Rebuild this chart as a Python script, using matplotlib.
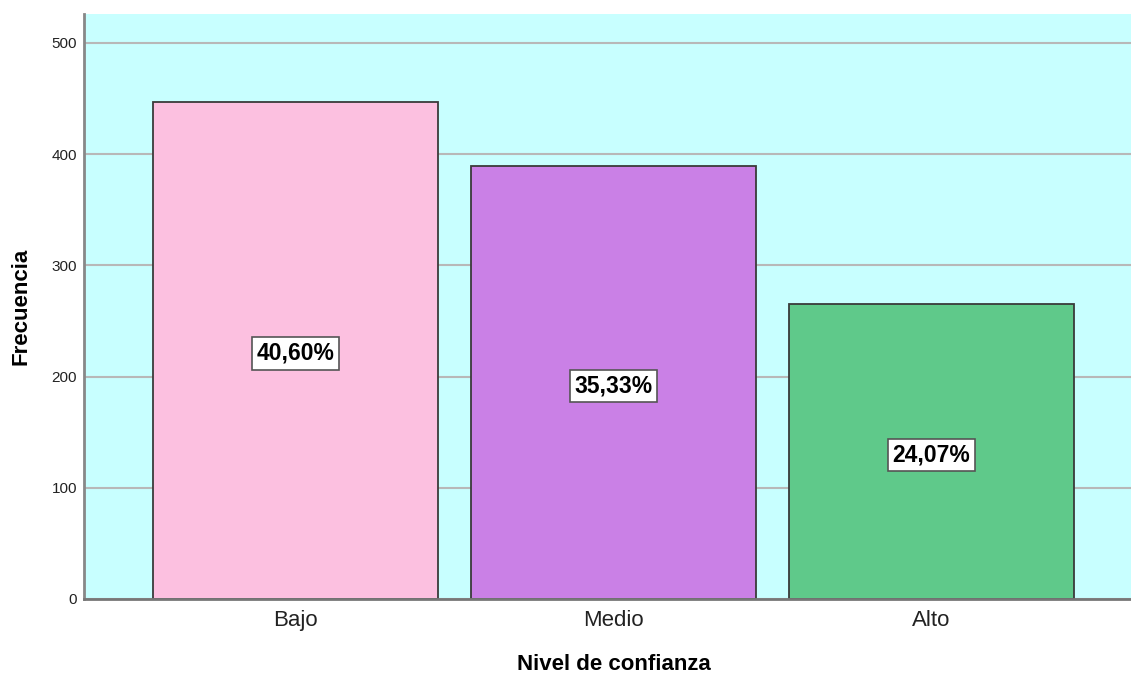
import matplotlib
matplotlib.use('Agg')
import matplotlib.pyplot as plt

plt.rcParams['font.family'] = ['Liberation Sans', 'DejaVu Sans']

# frequency counts per confidence level
niveles = ['Bajo', 'Medio', 'Alto']
frecuencias = [447, 389, 265]
porcentajes = ['40,60%', '35,33%', '24,07%']
colores = ['#FCC0E0', '#CA80E6', '#5FC98A']
yticks = [0, 100, 200, 300, 400, 500]

W, H = 1131, 675
fig = plt.figure(figsize=(W / 100, H / 100), dpi=100)
ax = fig.add_axes([84 / W, 76 / H, 1 - 84 / W, 585 / H])
ax.set_facecolor('#C8FFFF')

ax.set_xlim(-0.665, 2.627)
ax.set_ylim(0, 526)
ax.set_yticks(yticks)
ax.yaxis.grid(True, color='#B8B8B8', linewidth=1.5)
ax.set_axisbelow(True)

x = range(len(niveles))
ax.bar(x, frecuencias, width=0.896, color=colores, edgecolor='#3A3A3A', linewidth=1.3, zorder=2)

for xi, f, p in zip(x, frecuencias, porcentajes):
    ax.annotate(p, (xi, f / 2), xytext=(0, -3), textcoords='offset pixels',
                ha='center', va='center', fontsize=16.5, fontweight='bold',
                bbox=dict(facecolor='white', edgecolor='#555555', boxstyle='square,pad=0.2', linewidth=1.2),
                zorder=3)

ax.set_xticks(list(x))
ax.set_xticklabels(niveles, fontsize=16, color='#222222')
ax.tick_params(axis='x', length=0, pad=8)
ax.tick_params(axis='y', length=0, pad=5, labelsize=11, labelcolor='#222222')

for s in ['top', 'right']:
    ax.spines[s].set_visible(False)
ax.spines['left'].set_color('#888888')
ax.spines['left'].set_linewidth(2)
ax.spines['bottom'].set_color('#777777')
ax.spines['bottom'].set_linewidth(2)

fig.text(613.5 / W, 1 - 665 / H, 'Nivel de confianza', ha='center', va='center',
         fontsize=16, fontweight='bold')
fig.text(21 / W, 1 - 306 / H, 'Frecuencia', ha='center', va='center', rotation=90,
         fontsize=16, fontweight='bold')

fig.savefig('out.png', dpi=100)
